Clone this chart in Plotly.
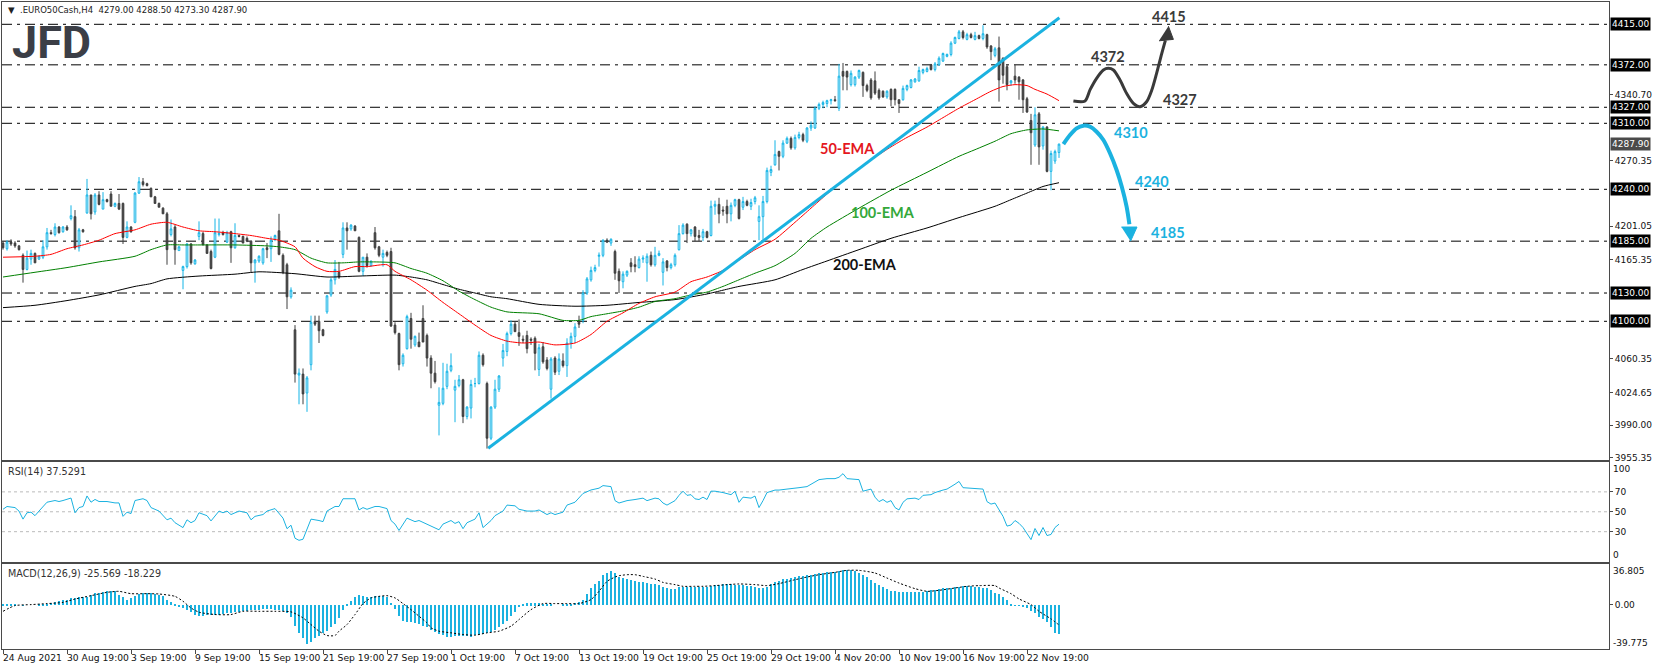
import plotly.graph_objects as go

# ---------------- data ----------------
bars = list(range(265))

opens = [4183,4177,4184,4183,4180,4170,4155,4166,4172,4166,
         4168,4179,4194,4192,4200,4195,4200,4209,4211,4178,
         4197,4215,4234,4216,4234,4219,4229,4235,4222,4225,
         4225,4189,4200,4205,4236,4248,4246,4241,4232,4225,
         4220,4214,4192,4200,4175,4154,4158,4182,4161,4190,
         4193,4181,4174,4168,4192,4194,4184,4195,4178,4191,
         4190,4188,4185,4162,4164,4162,4178,4177,4187,4196,
         4170,4160,4126,4091,4043,4044,4024,4054,4100,4100,
         4091,4110,4128,4144,4152,4171,4199,4198,4201,4189,
         4153,4168,4159,4194,4179,4168,4173,4174,4096,4087,
         4055,4071,4103,4075,4078,4103,4085,4061,4045,4011,
         4013,4031,4048,4027,4032,4038,3999,4008,4034,4034,
         4064,4034,3976,4009,4028,4061,4068,4087,4097,4088,
         4081,4085,4081,4082,4049,4073,4059,4028,4061,4047,
         4058,4053,4077,4084,4099,4101,4130,4144,4154,4169,
         4170,4186,4183,4174,4153,4142,4149,4162,4160,4157,
         4166,4162,4170,4160,4170,4152,4164,4157,4160,4176,
         4193,4203,4193,4200,4191,4189,4195,4191,4222,4224,
         4218,4222,4214,4223,4229,4221,4227,4222,4227,4206,
         4211,4227,4258,4266,4280,4275,4289,4294,4284,4295,
         4298,4291,4305,4305,4326,4330,4331,4334,4335,4326,
         4365,4365,4351,4351,4359,4364,4350,4356,4355,4345,
         4344,4338,4346,4346,4335,4335,4346,4348,4354,4355,
         4364,4365,4372,4367,4372,4376,4381,4383,4395,4400,
         4407,4399,4404,4399,4403,4400,4404,4392,4382,4390,
         4379,4370,4353,4360,4359,4356,4336,4313,4287,4320,
         4286,4306,4259,4270,4279.0]

highs = [4185,4186,4187,4185,4181,4172,4175,4176,4173,4170,
         4186,4199,4197,4204,4201,4201,4202,4223,4218,4199,
         4198,4251,4234,4236,4238,4237,4230,4238,4226,4235,
         4226,4206,4201,4237,4253,4252,4247,4242,4233,4226,
         4221,4216,4208,4202,4180,4159,4183,4183,4166,4206,
         4195,4182,4176,4209,4209,4196,4196,4196,4204,4192,
         4191,4190,4186,4166,4170,4178,4183,4190,4192,4214,
         4172,4162,4136,4096,4050,4050,4042,4106,4106,4106,
         4092,4128,4146,4165,4163,4205,4205,4203,4202,4190,
         4168,4172,4165,4200,4180,4176,4175,4178,4099,4088,
         4066,4107,4109,4085,4088,4117,4087,4064,4058,4030,
         4056,4055,4066,4038,4043,4039,4010,4038,4040,4068,
         4066,4036,4010,4038,4043,4076,4089,4101,4100,4102,
         4085,4090,4083,4084,4076,4078,4062,4062,4063,4066,
         4066,4082,4088,4098,4106,4133,4147,4158,4160,4173,
         4187,4188,4188,4176,4156,4153,4154,4167,4169,4169,
         4170,4172,4174,4179,4175,4167,4165,4162,4172,4202,
         4204,4204,4198,4201,4197,4198,4196,4228,4228,4231,
         4222,4229,4226,4230,4230,4232,4229,4230,4233,4223,
         4233,4263,4265,4292,4281,4292,4296,4296,4298,4301,
         4300,4306,4312,4328,4332,4334,4335,4336,4339,4373,
         4374,4366,4366,4360,4367,4365,4352,4358,4365,4347,
         4345,4345,4347,4347,4335,4350,4351,4357,4358,4370,
         4368,4370,4373,4375,4381,4385,4384,4397,4402,4409,
         4409,4406,4406,4407,4404,4414,4405,4393,4391,4402,
         4380,4372,4356,4372,4360,4357,4338,4320,4327,4322,
         4307,4307,4281,4282,4288.5]

lows = [4176,4175,4180,4178,4175,4141,4154,4160,4162,4165,
        4166,4176,4192,4190,4193,4194,4196,4207,4176,4174,
        4194,4214,4208,4213,4223,4219,4226,4222,4221,4218,
        4182,4188,4194,4204,4235,4243,4243,4232,4225,4221,
        4214,4160,4190,4160,4175,4134,4156,4160,4160,4186,
        4181,4172,4155,4167,4190,4191,4183,4162,4177,4189,
        4183,4184,4152,4141,4162,4160,4167,4163,4185,4170,
        4150,4113,4124,4035,4012,4012,4004,4048,4095,4077,
        4084,4108,4126,4139,4145,4167,4176,4196,4196,4152,
        4148,4157,4158,4176,4168,4158,4168,4094,4086,4048,
        4052,4070,4071,4073,4073,4078,4052,4029,4034,3979,
        4011,4028,4046,3993,4030,3992,3996,3997,4030,4033,
        4052,3965,3974,4007,4025,4052,4063,4085,4089,4074,
        4077,4066,4075,4048,4042,4055,4048,4018,4043,4043,
        4051,4041,4071,4077,4093,4098,4128,4142,4152,4158,
        4168,4183,4180,4144,4130,4135,4147,4152,4152,4156,
        4162,4142,4158,4158,4169,4138,4153,4155,4158,4175,
        4192,4183,4190,4185,4185,4185,4188,4190,4213,4204,
        4212,4204,4206,4221,4208,4218,4222,4218,4224,4186,
        4184,4225,4254,4265,4260,4273,4288,4282,4282,4293,
        4290,4289,4302,4304,4324,4326,4327,4330,4333,4323,
        4345,4345,4349,4349,4357,4338,4343,4335,4340,4335,
        4337,4336,4328,4329,4321,4334,4344,4347,4353,4354,
        4362,4364,4366,4365,4371,4375,4380,4381,4394,4399,
        4399,4398,4400,4398,4399,4398,4389,4377,4380,4333,
        4352,4345,4350,4352,4335,4321,4321,4266,4285,4266,
        4282,4258,4239,4267,4273.3]

closes = [4178,4184,4182,4180,4176,4155,4167,4172,4162,4169,
          4179,4194,4193,4200,4194,4200,4197,4212,4178,4197,
          4195,4234,4214,4234,4224,4229,4227,4222,4225,4219,
          4189,4200,4195,4236,4248,4245,4244,4232,4225,4221,
          4214,4176,4198,4176,4179,4158,4182,4162,4165,4194,
          4181,4172,4156,4194,4193,4192,4194,4178,4191,4190,
          4183,4185,4162,4165,4169,4177,4176,4186,4191,4171,
          4152,4126,4133,4044,4045,4023,4040,4099,4097,4090,
          4085,4127,4144,4155,4147,4199,4196,4202,4196,4153,
          4168,4159,4163,4178,4170,4172,4170,4095,4088,4054,
          4064,4105,4081,4084,4073,4078,4061,4045,4036,4014,
          4029,4047,4053,4031,4038,3999,4009,4033,4034,4064,
          4054,3976,4009,4028,4042,4069,4087,4097,4089,4084,
          4080,4071,4080,4066,4072,4057,4050,4060,4046,4060,
          4053,4077,4084,4094,4097,4130,4145,4154,4157,4170,
          4186,4184,4187,4151,4143,4150,4153,4158,4158,4166,
          4167,4169,4160,4170,4172,4163,4157,4160,4170,4193,
          4202,4193,4197,4190,4189,4195,4189,4222,4224,4214,
          4217,4214,4223,4229,4209,4227,4223,4226,4231,4211,
          4227,4260,4261,4277,4275,4289,4294,4284,4295,4298,
          4292,4305,4308,4326,4330,4332,4334,4335,4334,4360,
          4360,4359,4363,4359,4366,4350,4345,4337,4342,4337,
          4338,4344,4335,4335,4331,4347,4350,4356,4357,4366,
          4367,4368,4367,4373,4379,4384,4383,4395,4401,4407,
          4401,4404,4401,4403,4400,4405,4391,4386,4389,4356,
          4361,4351,4355,4356,4354,4335,4322,4300,4319,4285,
          4306,4259,4278,4280,4287.9]

# moving averages (sampled readings)
ema50_x = [0, 8, 12, 16, 20, 24, 28, 33, 37, 41,
           45, 49, 53, 58, 62, 66, 69, 73, 75, 78,
           81, 84, 88, 91, 96, 98, 102, 106, 110, 114,
           118, 122, 126, 130, 134, 138, 143, 147, 151, 155,
           159, 163, 168, 172, 176, 180, 184, 188, 193, 198,
           202, 206, 210, 214, 218, 222, 226, 231, 235, 239,
           243, 247, 250, 253, 256, 258, 261, 264]
ema50_y = [4168, 4169, 4171, 4177, 4181, 4186, 4193, 4197, 4203, 4205,
           4200, 4196, 4195, 4193, 4191, 4188, 4186, 4179, 4167, 4158,
           4153, 4153, 4158, 4158, 4160, 4153, 4144, 4133, 4120, 4108,
           4096, 4085, 4079, 4077, 4078, 4075, 4077, 4086, 4100, 4109,
           4119, 4126, 4131, 4142, 4147, 4154, 4165, 4176, 4187, 4205,
           4220, 4235, 4249, 4262, 4274, 4285, 4295, 4306, 4316, 4326,
           4335, 4344, 4349, 4351, 4350, 4346, 4341, 4334]

ema100_x = [0, 8, 16, 24, 33, 37, 41, 45, 49, 58,
            66, 69, 73, 77, 81, 85, 89, 93, 98, 102,
            106, 110, 114, 118, 122, 126, 134, 140, 144, 147,
            151, 155, 159, 163, 168, 172, 176, 180, 184, 188,
            193, 198, 202, 206, 214, 222, 231, 239, 243, 248,
            252, 256, 260, 264]
ema100_y = [4147, 4152, 4157, 4163, 4169, 4176, 4181, 4181, 4181, 4181,
            4180, 4179, 4176, 4167, 4162, 4162, 4163, 4163, 4162, 4156,
            4151, 4143, 4132, 4123, 4115, 4110, 4108, 4101, 4101, 4105,
            4108, 4111, 4115, 4121, 4124, 4128, 4131, 4137, 4144, 4151,
            4159, 4172, 4188, 4200, 4220, 4239, 4258, 4275, 4282, 4291,
            4299, 4303, 4304, 4302]

ema200_x = [0, 8, 16, 24, 33, 37, 41, 49, 58, 64,
            73, 81, 89, 98, 102, 106, 110, 114, 118, 122,
            126, 134, 143, 151, 159, 168, 176, 180, 184, 193,
            200, 206, 214, 222, 231, 239, 248, 252, 256, 260,
            264]
ema200_y = [4114.5, 4117, 4122, 4128, 4137, 4140, 4145, 4148, 4150, 4152.5,
            4150.5, 4147, 4148, 4149, 4147, 4144, 4139, 4134, 4130, 4126,
            4124, 4118, 4116, 4117, 4120, 4123, 4129, 4133, 4137, 4144,
            4155, 4164, 4176, 4188, 4199, 4210, 4222, 4229, 4236, 4243,
            4247]

# RSI(14) readings
rsi_x = [0, 1, 3, 4, 5, 6, 7, 8, 9, 11, 13, 14, 15, 17, 18, 19, 20, 21, 22, 23,
         24, 26, 28, 29, 30, 31, 32, 33, 35, 36, 37, 39, 41, 42, 43, 45, 46, 47, 48, 49,
         51, 52, 54, 55, 56, 57, 59, 61, 62, 63, 65, 66, 68, 69, 70, 71, 72, 73, 74, 75,
         77, 79, 80, 81, 83, 84, 85, 88, 89, 90, 91, 93, 94, 96, 97, 98, 99, 101, 103, 104,
         106, 109, 110, 112, 113, 114, 115, 116, 118, 119, 120, 122, 123, 125, 126, 128, 129, 131, 133, 134,
         136, 137, 138, 140, 141, 143, 145, 147, 149, 150, 152, 153, 154, 156, 158, 160, 161, 163, 164, 165,
         166, 168, 169, 170, 171, 172, 173, 174, 175, 176, 177, 178, 180, 181, 182, 183, 184, 185, 187, 188,
         189, 190, 191, 193, 194, 196, 198, 199, 201, 203, 204, 206, 208, 209, 210, 211, 213, 214, 215, 216,
         217, 218, 219, 220, 221, 222, 223, 224, 225, 226, 228, 229, 230, 232, 233, 235, 236, 238, 239, 240,
         242, 243, 245, 246, 247, 248, 249, 250, 251, 252, 253, 254, 255, 256, 257, 258, 259, 260, 261, 262,
         263, 264]
rsi_y = [52.5, 55.3, 54.2, 50.7, 42.6, 49, 49.6, 46.1, 50.7, 59.6, 61.3, 60.3, 61.3, 63.8, 49, 54.2, 55.3, 65.9, 59.6, 62.4,
         60.3, 60.3, 58.9, 58.9, 45.4, 49.6, 48.2, 61.3, 63.1, 61.3, 54.2, 50.7, 41.9, 43.6, 39, 34.1, 41.9, 39, 41.2, 49,
         46.1, 40.8, 50.7, 49, 50.7, 47.2, 50.7, 49, 41.9, 45.4, 47.2, 50.7, 53.2, 48.2, 43.6, 33, 36.5, 23.4, 21.3, 22.4,
         42.6, 41.2, 40.1, 50.7, 55.3, 55.3, 63.1, 63.1, 51.8, 54.2, 52.5, 55.3, 55.3, 53.2, 41.2, 37.6, 31.2, 43.6, 40.1, 41.2,
         37.6, 31.9, 37.6, 41.2, 38.3, 40.1, 33, 39, 42.6, 49, 34.1, 41.2, 46.1, 50.7, 56.7, 56, 52.5, 50.7, 50.7, 51.8,
         47.2, 49, 47.2, 49.6, 56.7, 59.6, 68.4, 71.9, 73.7, 76.3, 75.3, 61.2, 58.8, 61.2, 62.3, 63.7, 61.2, 63.7, 63, 58.8,
         56.7, 61.2, 66.5, 70.7, 66.5, 67.2, 63, 62.3, 64.7, 62.3, 70.7, 70.7, 69.3, 68.3, 67.2, 70.7, 59.5, 64.7, 63.7, 65.8,
         54.2, 61.2, 69.3, 71.8, 71.8, 72.8, 74.2, 74.2, 75.3, 80.5, 82.3, 83.3, 83.3, 84.7, 88.3, 83.3, 82.3, 82.3, 70.7, 71.4,
         72.8, 64.7, 60.2, 62.3, 59.5, 61.2, 54.2, 51.8, 59.5, 63, 63.7, 62.3, 66.5, 67.2, 69.3, 71.8, 72.8, 77.7, 80.5, 74.2,
         73.5, 72.8, 72.8, 60.2, 57.7, 58.8, 52.5, 45.4, 35.6, 36.7, 41.2, 38.4, 34.2, 27.9, 22, 33.2, 26.1, 34.2, 26.1, 27.2,
         34.2, 37.53]
rsi_levels = [70, 50, 30]

# MACD(12,26,9): main histogram per bar and signal readings
macd_main = [1, 1, 1, 0.5, 0, -0.3, 0, 0, 0, 0.3,
             0.5, 1, 2, 3, 3.9, 4.5, 5, 6, 6.5, 6.8,
             7.2, 7.6, 9, 10.5, 11, 11.9, 12.2, 12.5, 12.2, 9,
             7, 5, 6.5, 8.5, 10, 10.4, 10.4, 10.4, 9.8, 9,
             8, 5, 2.5, 0.5, -0.9, -3, -4.5, -6.5, -8.5, -9.8,
             -9.8, -9.3, -8.9, -8.9, -8.5, -8, -7.4, -7, -6.5, -6,
             -5.5, -5, -4.5, -4.2, -4, -3.9, -3.9, -3.9, -4, -4.5,
             -5.4, -7.4, -10.4, -18.8, -25.3, -29.8, -34.8, -32.7, -29.8, -27.5,
             -25.3, -23, -20, -17, -12, -4, 1, 4, 7.5, 8.9,
             8, 7.4, 7.4, 8, 8, 8, 7.4, 2, -3.5, -10,
             -14, -14.9, -15, -15.8, -16.8, -18.5, -20, -22.3, -23.8, -25.5,
             -26.8, -28.9, -28.3, -28, -27.7, -27.7, -28, -28.3, -27, -26.8,
             -25.5, -25.3, -23.8, -22.3, -20, -17, -14, -10, -6, -1.5,
             0.9, 1.5, 1.5, 1.5, 1.5, 1, 1, 0.5, 0, 0,
             0.5, 0.8, 1, 2, 3, 5, 10, 15, 19, 22,
             26.8, 28.9, 30.7, 28.3, 25.3, 24.7, 23.8, 22.9, 21.7, 20.8,
             20.8, 19.9, 18.8, 18.5, 17.9, 16.4, 14.9, 14, 14.5, 15.8,
             16.4, 16.4, 16.4, 16.4, 16.4, 16.4, 16.4, 17, 17.9, 17.9,
             18.5, 18.8, 18.8, 18.3, 17.9, 17.9, 17.5, 17, 16.4, 15,
             14.9, 16, 18.8, 20.5, 21.7, 23, 23.8, 24.7, 25.3, 25.9,
             26, 26.8, 26.8, 27.5, 28.9, 28.9, 29.8, 29.8, 29.8, 30.7,
             31.8, 31.3, 31.3, 30.7, 28.9, 26.8, 25.3, 22.9, 19.9, 17.9,
             16.4, 14, 13, 12.8, 11.9, 11.9, 11.9, 11.9, 11.9, 11.9,
             11.9, 12.8, 13.4, 13.4, 14, 14.9, 14.9, 15.5, 16.4, 16.4,
             17, 17, 17, 16.4, 15.8, 15.5, 14.9, 13.4, 11, 9.8,
             7.4, 4.5, 0.9, -0.6, -0.6, -1.5, -3, -5.1, -7.4, -10.4,
             -12.8, -14.9, -19.3, -24.7, -25.569]
signal_x = [0, 3, 7, 11, 15, 18, 22, 26, 29, 32, 36, 39, 43, 45, 47, 49, 53, 57, 60, 64,
            68, 72, 75, 77, 79, 81, 83, 84, 86, 88, 90, 92, 94, 96, 98, 100, 102, 104, 106, 107,
            109, 112, 115, 118, 121, 124, 127, 129, 132, 135, 138, 141, 144, 147, 149, 151, 153, 154, 156, 158,
            160, 163, 165, 168, 170, 173, 175, 178, 181, 184, 188, 191, 194, 198, 201, 204, 208, 211, 214, 218,
            221, 224, 228, 231, 234, 238, 241, 244, 248, 249, 252, 254, 257, 259, 262, 264]
signal_y = [-6, -0.9, 0, 0.9, 2, 5, 8, 11, 11.9, 9.8, 9.8, 9.5, 7.4, 3, -3, -6.8, -8.9, -8.9, -6, -6,
            -6, -6.5, -11.9, -17.9, -23.8, -27.7, -27.7, -23.8, -17.9, -8.9, 0.9, 6, 7.4, 8, 6, 0.9, -4.5, -10.4, -16.4, -20.8,
            -23.8, -25.3, -26.8, -27.4, -25.3, -23.8, -19.3, -13.4, -4.5, 0.9, 0.9, 0.9, 0.9, 4.5, 11.9, 20.8, 24.7, 25.9, 26.8, 26.8,
            25.3, 22.9, 19.9, 17.9, 16.4, 16.4, 16.4, 17, 17.9, 18.5, 17.9, 17, 18.8, 22.3, 24.7, 26.8, 28.9, 30.7, 30.7, 28.3,
            23.8, 19.3, 14.3, 11.9, 12.8, 14.9, 16.4, 17, 17, 14.9, 9.8, 5.1, 0, -6, -12.8, -18.229]

# axis labels
price_ticks = [3955.35, 3990.00, 4024.65, 4060.35, 4165.35, 4201.05, 4270.35, 4340.70]
date_ticks = [0, 16, 32, 48, 64, 80, 96, 112, 128, 144, 160, 176, 192, 208, 224, 240, 256]
date_labels = ["24 Aug 2021", "30 Aug 19:00", "3 Sep 19:00", "9 Sep 19:00", "15 Sep 19:00",
               "21 Sep 19:00", "27 Sep 19:00", "1 Oct 19:00", "7 Oct 19:00", "13 Oct 19:00",
               "19 Oct 19:00", "25 Oct 19:00", "29 Oct 19:00", "4 Nov 20:00", "10 Nov 19:00",
               "16 Nov 19:00", "22 Nov 19:00"]

# analyst drawings (bar index, price)
levels = [4415, 4372, 4327, 4310, 4240, 4185, 4130, 4100]
last_price = 4287.90
trend_x = [121.3, 264.1]
trend_y = [3965.3, 4422.0]
up_path_x = [267.6, 270.5, 271.75, 273.4, 275.1, 276.3, 277.6, 279.25, 280.9, 282.6,
             284.25, 285.9, 287.2, 288.4, 289.7, 290.6]
up_path_y = [4333.7, 4333.7, 4345.4, 4357.7, 4366.5, 4368.3, 4366.5, 4355.9, 4341.8, 4331.2,
             4327.6, 4332.9, 4345.3, 4363.0, 4384.2, 4398.0]
up_head_x = [289.0, 292.6, 291.35]
up_head_y = [4397.5, 4399.0, 4413.0]
down_path_x = [265.1, 266.75, 268.4, 270.1, 271.75, 273.4, 275.1, 276.75, 278.4, 279.7, 280.9, 281.6]
down_path_y = [4288.0, 4297.6, 4304.7, 4307.5, 4306.4, 4301.1, 4292.3, 4278.2, 4260.5, 4242.8, 4221.6, 4203.0]
down_head_x = [279.6, 283.5, 281.9]
down_head_y = [4200.0, 4200.0, 4185.0]
up_labels = [("4415", 291.45, 4423.6), ("4372", 276.25, 4381.2), ("4327", 294.25, 4335.6)]
down_labels = [("4310", 282.0, 4300.5), ("4240", 287.15, 4248.8), ("4185", 291.15, 4194.4)]
ema_labels = [("50-EMA", 211.1, 4283.1, "#E4171E"), ("100-EMA", 220.0, 4215.9, "#34A83A"),
              ("200-EMA", 215.4, 4160.6, "#111111")]

# ---------------- styling ----------------
CYAN = "#12B4E6"
LINE_CYAN = "#1BB2E0"
DARK = "#3F3F3F"
FRAME = "#4A4A4A"
AXFONT = dict(family="DejaVu Sans", size=9, color="#111111")
DATEFONT = dict(family="DejaVu Sans", size=9.2, color="#111111")
CAPFONT = dict(family="DejaVu Sans", size=9.6, color="#333333")

fig = go.Figure()

fig.add_trace(go.Candlestick(
    x=bars, open=opens, high=highs, low=lows, close=closes,
    xaxis="x", yaxis="y", whiskerwidth=0, hoverinfo="skip",
    increasing=dict(line=dict(color=CYAN, width=1), fillcolor="white"),
    decreasing=dict(line=dict(color=DARK, width=1), fillcolor=DARK)))

for ex, ey, col in [(ema200_x, ema200_y, "#000000"), (ema100_x, ema100_y, "#008000"),
                    (ema50_x, ema50_y, "#FF0000")]:
    fig.add_trace(go.Scatter(x=ex, y=ey, mode="lines", xaxis="x", yaxis="y",
                             line=dict(color=col, width=1, shape="spline", smoothing=0.6),
                             hoverinfo="skip"))

fig.add_trace(go.Scatter(x=trend_x, y=trend_y, mode="lines", xaxis="x", yaxis="y",
                         line=dict(color=LINE_CYAN, width=3), hoverinfo="skip"))

fig.add_trace(go.Scatter(x=up_path_x, y=up_path_y, mode="lines", xaxis="x", yaxis="y",
                         line=dict(color="#3A3A3A", width=3, shape="spline", smoothing=0.8),
                         hoverinfo="skip"))
fig.add_trace(go.Scatter(x=up_head_x, y=up_head_y, mode="lines", fill="toself", xaxis="x", yaxis="y",
                         fillcolor="#3A3A3A", line=dict(color="#3A3A3A", width=1), hoverinfo="skip"))
fig.add_trace(go.Scatter(x=down_path_x, y=down_path_y, mode="lines", xaxis="x", yaxis="y",
                         line=dict(color=LINE_CYAN, width=4, shape="spline", smoothing=0.8),
                         hoverinfo="skip"))
fig.add_trace(go.Scatter(x=down_head_x, y=down_head_y, mode="lines", fill="toself", xaxis="x", yaxis="y",
                         fillcolor=LINE_CYAN, line=dict(color=LINE_CYAN, width=1), hoverinfo="skip"))

fig.add_trace(go.Scatter(x=rsi_x, y=rsi_y, mode="lines", xaxis="x2", yaxis="y2",
                         line=dict(color=LINE_CYAN, width=1), hoverinfo="skip"))

fig.add_trace(go.Bar(x=bars, y=macd_main, xaxis="x3", yaxis="y3", width=0.3,
                     marker=dict(color=LINE_CYAN, line=dict(width=0)), hoverinfo="skip"))
fig.add_trace(go.Scatter(x=signal_x, y=signal_y, mode="lines", xaxis="x3", yaxis="y3",
                         line=dict(color="black", width=1, dash="2px,2px", shape="spline", smoothing=0.6),
                         hoverinfo="skip"))

shapes = []
for lv in levels:
    shapes.append(dict(type="line", xref="x domain", x0=0, x1=1, yref="y", y0=lv, y1=lv,
                       layer="below", line=dict(color="black", width=1, dash="10px,5px,3px,5px")))
for lv in rsi_levels:
    shapes.append(dict(type="line", xref="x2 domain", x0=0, x1=1, yref="y2", y0=lv, y1=lv,
                       layer="below", line=dict(color="#BBBBBB", width=1, dash="3px,3px")))

ann = []
for lv in levels:
    ann.append(dict(xref="paper", x=1, xanchor="left", xshift=1, yref="y", y=lv,
                    text=f"{lv:.2f}", showarrow=False, bgcolor="black", borderpad=1,
                    font=dict(family="DejaVu Sans", size=9, color="white")))
ann.append(dict(xref="paper", x=1, xanchor="left", xshift=1, yref="y", y=last_price,
                text=f"{last_price:.2f}", showarrow=False, bgcolor="#4B4B4B", borderpad=1,
                font=dict(family="DejaVu Sans", size=9, color="white")))
for txt, bx, py in up_labels:
    ann.append(dict(xref="x", x=bx, yref="y", y=py, text=f"<b>{txt}</b>", showarrow=False,
                    font=dict(family="Lato", size=14.5, color="#3A3A3A")))
for txt, bx, py in down_labels:
    ann.append(dict(xref="x", x=bx, yref="y", y=py, text=f"<b>{txt}</b>", showarrow=False,
                    font=dict(family="Lato", size=14.5, color=LINE_CYAN)))
for txt, bx, py, col in ema_labels:
    ann.append(dict(xref="x", x=bx, yref="y", y=py, text=f"<b>{txt}</b>", showarrow=False,
                    font=dict(family="Lato", size=14.5, color=col)))
for dt, lb in zip(date_ticks, date_labels):
    ann.append(dict(xref="x3", x=dt, xanchor="left", xshift=-2, yref="paper", y=0, yanchor="top",
                    yshift=-1, text=lb, showarrow=False, font=DATEFONT))
# RSI / MACD edge values
ann.append(dict(xref="paper", x=1, xanchor="left", xshift=2, yref="y2", y=100, yshift=-7,
                text="100", showarrow=False, font=AXFONT))
ann.append(dict(xref="paper", x=1, xanchor="left", xshift=2, yref="y2", y=0, yshift=7,
                text="0", showarrow=False, font=AXFONT))
ann.append(dict(xref="paper", x=1, xanchor="left", xshift=2, yref="y3", y=36.805, yshift=-7,
                text="36.805", showarrow=False, font=AXFONT))
ann.append(dict(xref="paper", x=1, xanchor="left", xshift=2, yref="y3", y=-39.775, yshift=6,
                text="-39.775", showarrow=False, font=AXFONT))
# panel captions
ann.append(dict(xref="paper", x=0, xanchor="left", xshift=4, yref="paper", y=1, yanchor="top",
                yshift=-1, text="\u25bc\u00a0\u00a0.EURO50Cash,H4\u00a0\u00a04279.00 4288.50 4273.30 4287.90",
                showarrow=False, font=dict(family="DejaVu Sans", size=8.5, color="#222222")))
ann.append(dict(xref="paper", x=0, xanchor="left", xshift=8, yref="paper", y=1, yanchor="top",
                yshift=-12, text="<b>JFD</b>", showarrow=False,
                font=dict(family="Roboto", size=45, color="#3B3E46")))
ann.append(dict(xref="paper", x=0, xanchor="left", xshift=4, yref="y2", y=100, yanchor="top",
                yshift=-2, text="RSI(14) 37.5291", showarrow=False, font=CAPFONT))
ann.append(dict(xref="paper", x=0, xanchor="left", xshift=4, yref="y3", y=36.805, yanchor="top",
                yshift=-2, text="MACD(12,26,9) -25.569 -18.229", showarrow=False, font=CAPFONT))

xcommon = dict(range=[-0.25, 401.5], showgrid=False, zeroline=False, showline=True, mirror=True,
               linecolor=FRAME, linewidth=1, fixedrange=True)
ycommon = dict(side="right", showgrid=False, zeroline=False, showline=True, mirror=True,
               linecolor=FRAME, linewidth=1, ticks="outside", ticklen=3, tickcolor=FRAME,
               tickfont=AXFONT, fixedrange=True)

fig.update_layout(
    width=1655, height=670,
    margin=dict(l=2, r=46, t=2, b=21),
    paper_bgcolor="white", plot_bgcolor="white",
    showlegend=False, hovermode=False, boxgap=0.4, bargap=0,
    xaxis=dict(domain=[0, 1], anchor="y", showticklabels=False, ticks="",
               rangeslider=dict(visible=False), **xcommon),
    xaxis2=dict(domain=[0, 1], anchor="y2", matches="x", showticklabels=False, ticks="", **xcommon),
    xaxis3=dict(domain=[0, 1], anchor="y3", matches="x", showticklabels=False, ticks="outside",
                ticklen=4, tickcolor=FRAME, tickvals=date_ticks, **xcommon),
    yaxis=dict(domain=[0.2921, 1], anchor="x", range=[3952.9, 4438.65], tickvals=price_ticks,
               ticktext=[f"{v:.2f}" for v in price_ticks], **ycommon),
    yaxis2=dict(domain=[0.1352, 0.2890], anchor="x2", range=[0, 100], tickvals=rsi_levels,
                ticktext=[str(v) for v in rsi_levels], **ycommon),
    yaxis3=dict(domain=[0, 0.1321], anchor="x3", range=[-39.775, 36.805], tickvals=[0],
                ticktext=["0.00"], **ycommon),
    shapes=shapes, annotations=ann,
)

fig.write_html("out.html", config={"displayModeBar": False},
               post_script="document.body.style.margin='0';document.body.style.padding='0';")
